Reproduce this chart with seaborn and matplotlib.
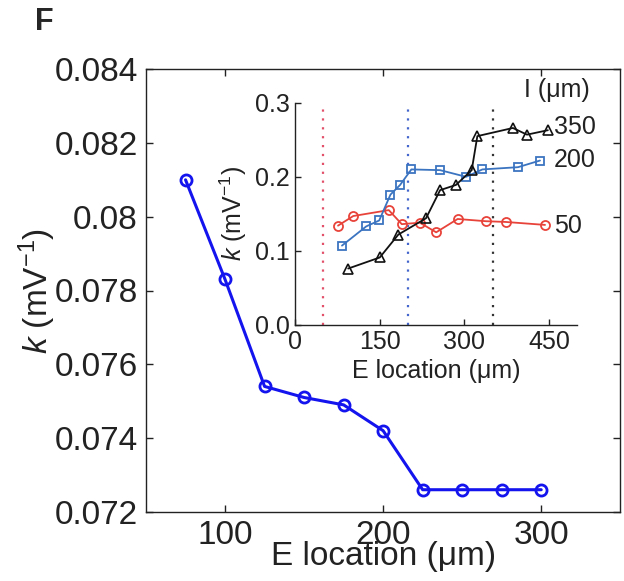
import matplotlib
matplotlib.use("Agg")
import matplotlib.pyplot as plt
import seaborn as sns

# ---- main panel: k versus E location ----
e_loc = [75, 100, 125, 150, 175, 200, 225, 250, 275, 300]
k_main = [0.0810, 0.0783, 0.0754, 0.0751, 0.0749, 0.0742, 0.0726, 0.0726, 0.0726, 0.0726]
main_xticks = [100, 200, 300]
main_yticks = [0.072, 0.074, 0.076, 0.078, 0.080, 0.082, 0.084]
main_yticklabels = ["0.072", "0.074", "0.076", "0.078", "0.08", "0.082", "0.084"]

# ---- inset: k versus E location for three I positions ----
e_50 = [76, 103, 166, 189, 221, 250, 288, 338, 373, 443]
k_50 = [0.134, 0.147, 0.155, 0.136, 0.138, 0.125, 0.143, 0.140, 0.139, 0.135]
e_200 = [83, 126, 149, 169, 186, 206, 257, 303, 332, 395, 434]
k_200 = [0.107, 0.133, 0.141, 0.176, 0.189, 0.210, 0.209, 0.200, 0.210, 0.213, 0.222]
e_350 = [94, 150, 183, 232, 257, 285, 313, 323, 386, 411, 448]
k_350 = [0.076, 0.091, 0.122, 0.144, 0.182, 0.189, 0.209, 0.255, 0.266, 0.257, 0.263]
i_positions = [50, 200, 350]
i_labels = ["50", "200", "350"]
inset_xticks = [0, 150, 300, 450]
inset_yticks = [0.0, 0.1, 0.2, 0.3]
inset_yticklabels = ["0.0", "0.1", "0.2", "0.3"]

sns.set_style("ticks")
plt.rcParams["font.family"] = ["Liberation Sans", "DejaVu Sans"]
plt.rcParams["mathtext.fontset"] = "custom"
plt.rcParams["mathtext.rm"] = "Liberation Sans"
plt.rcParams["mathtext.it"] = "Liberation Sans:italic"
plt.rcParams["axes.unicode_minus"] = True

fig = plt.figure(figsize=(6.24, 5.81), dpi=100)
fig.patch.set_facecolor("white")

# main axes
ax = fig.add_axes([0.234, 0.119, 0.760, 0.762])
sns.lineplot(x=e_loc, y=k_main, ax=ax, color="#1414EE", linewidth=2.2,
             marker="o", markersize=8, markerfacecolor="none",
             markeredgecolor="#1414EE", markeredgewidth=2.0)
ax.set_xlim(50, 350)
ax.set_ylim(0.072, 0.084)
ax.set_xticks(main_xticks)
ax.set_xticklabels([str(v) for v in main_xticks])
ax.set_yticks(main_yticks)
ax.set_yticklabels(main_yticklabels)
ax.tick_params(direction="in", length=5, width=1, top=True, right=True,
               labelsize=24, colors="#222222", pad=6)
for s in ax.spines.values():
    s.set_linewidth(1.0)
    s.set_color("#222222")
ax.set_xlabel("E location (μm)", fontsize=24, labelpad=-7, color="#222222")
ax.set_ylabel("$k$ (mV$^{-1}$)", fontsize=24, color="#222222")
ax.yaxis.set_label_coords(-0.185, 0.5)

# panel letter
fig.text(0.056, 0.962, "F", fontsize=22, fontweight="bold", ha="left", va="center")

# inset axes
ax_in = fig.add_axes([0.473, 0.441, 0.452, 0.382])
ax_in.set_facecolor("none")
dot_colors = ["#E2506A", "#4466CC", "#333333"]
for xpos, c in zip(i_positions, dot_colors):
    ax_in.axvline(xpos, color=c, linestyle=(0, (1, 3)), linewidth=1.6)

sns.lineplot(x=e_50, y=k_50, ax=ax_in, color="#E8433A", linewidth=1.3,
             marker="o", markersize=6.5, markerfacecolor="none",
             markeredgecolor="#E8433A", markeredgewidth=1.3)
sns.lineplot(x=e_200, y=k_200, ax=ax_in, color="#3B74C0", linewidth=1.3,
             marker="s", markersize=5.5, markerfacecolor="none",
             markeredgecolor="#3B74C0", markeredgewidth=1.3)
sns.lineplot(x=e_350, y=k_350, ax=ax_in, color="#111111", linewidth=1.3,
             marker="^", markersize=7, markerfacecolor="none",
             markeredgecolor="#111111", markeredgewidth=1.2)

ax_in.set_xlim(0, 500)
ax_in.set_ylim(0, 0.3)
ax_in.set_xticks(inset_xticks)
ax_in.set_xticklabels([str(v) for v in inset_xticks])
ax_in.set_yticks(inset_yticks)
ax_in.set_yticklabels(inset_yticklabels)
ax_in.tick_params(direction="in", length=4, width=1, labelsize=18,
                  colors="#222222", pad=4)
ax_in.spines["top"].set_visible(False)
ax_in.spines["right"].set_visible(False)
for side in ("left", "bottom"):
    ax_in.spines[side].set_linewidth(1.0)
    ax_in.spines[side].set_color("#222222")
ax_in.set_xlabel("E location (μm)", fontsize=18, labelpad=3, color="#222222")
ax_in.set_ylabel("$k$ (mV$^{-1}$)", fontsize=18, color="#222222")
ax_in.yaxis.set_label_coords(-0.165, 0.5)

# series labels at the right end of the inset
end_y = {"350": 0.268, "200": 0.223, "50": 0.133}
for lab in i_labels:
    ax_in.text(459, end_y[lab], lab, fontsize=18, ha="left", va="center",
               color="#222222", clip_on=False)
ax_in.text(406, 0.318, "I (μm)", fontsize=18, ha="left", va="center",
           color="#222222", clip_on=False)

fig.savefig("out.png", dpi=100, facecolor="white")
